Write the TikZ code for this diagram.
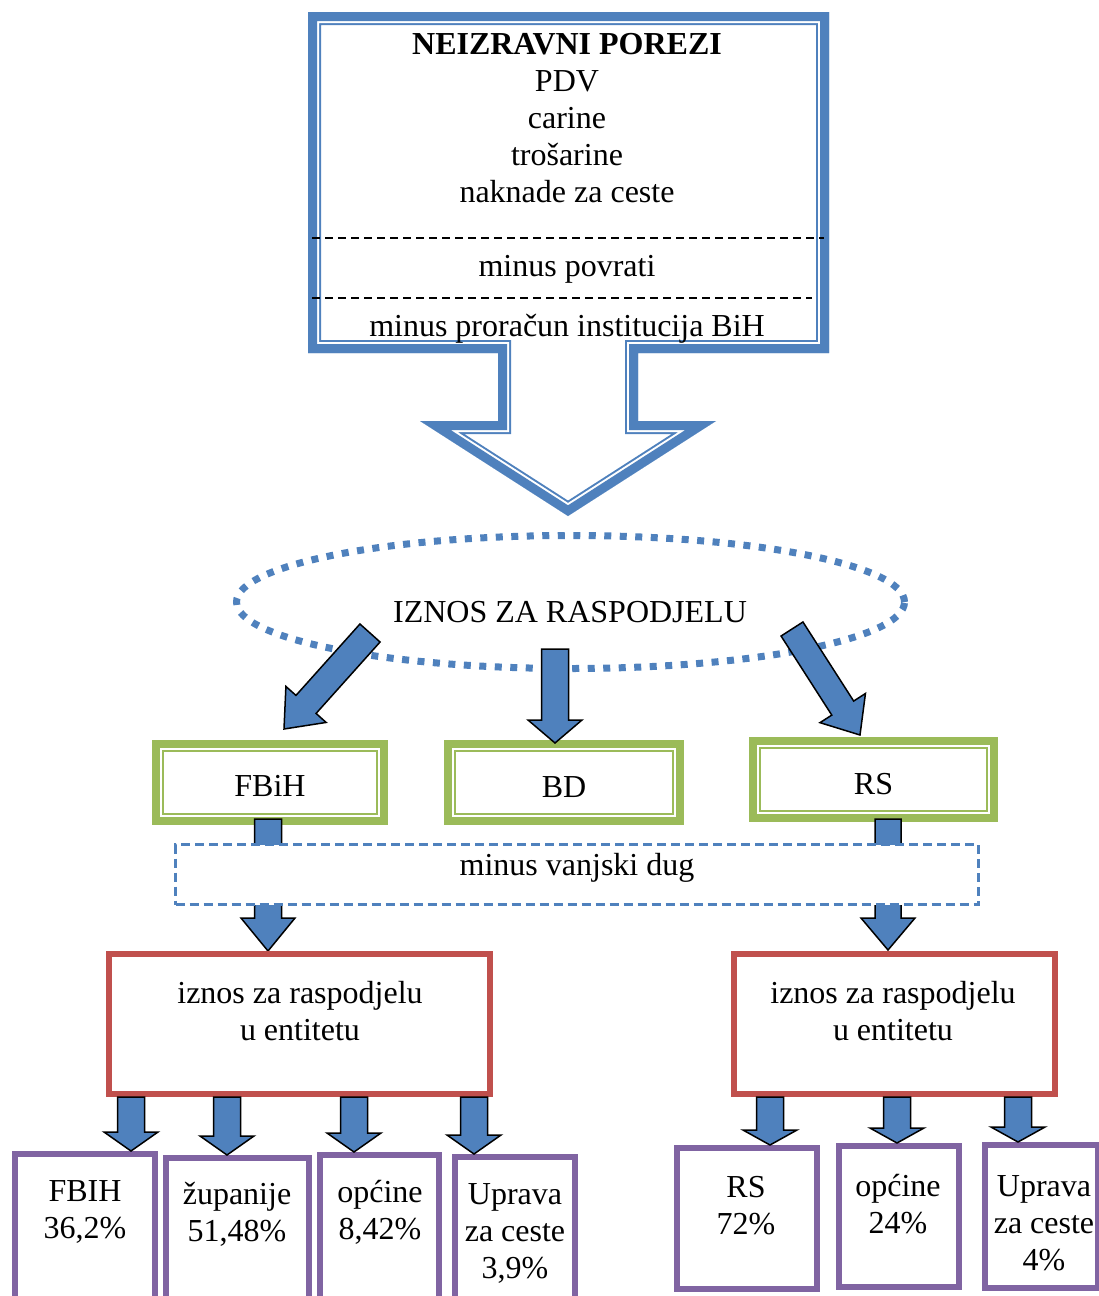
\documentclass[tikz,border=0pt]{standalone}
\usepackage{fontspec}
\setmainfont{Liberation Serif}
\usetikzlibrary{calc,shapes.geometric}

\definecolor{taxblue}{HTML}{4F81BD}
\definecolor{entgreen}{HTML}{9BBB59}
\definecolor{sumred}{HTML}{C0504D}
\definecolor{sharepurple}{HTML}{8064A2}

% block arrow: from, to, half shaft, half head, head length
\newcommand{\blockarrow}[5]{%
  \coordinate (hb) at ($(#2)!#5!(#1)$);
  \draw[blockarr] ($(#1)!#3!90:(#2)$) -- ($(hb)!#3!90:(#2)$) -- ($(hb)!#4!90:(#2)$) -- (#2)
    -- ($(hb)!#4!-90:(#2)$) -- ($(hb)!#3!-90:(#2)$) -- ($(#1)!#3!-90:(#2)$) -- cycle;
}
% thin second line inside a green box
\newcommand{\innerframe}[2]{%
  \draw[entgreen, line width=2pt] ([xshift=#2, yshift=-#2]#1.north west)
    rectangle ([xshift=-#2, yshift=#2]#1.south east);
}

\begin{document}
\begin{tikzpicture}[x=1pt, y=-1pt,
    txt/.style={font=\fontsize{32}{37}\selectfont, align=center, inner sep=0},
    blockarr/.style={fill=taxblue, draw=black, line width=1.5pt, line join=miter},
    greenbox/.style={draw=entgreen, line width=8pt, minimum width=#1, minimum height=77pt,
      inner sep=0, text height=29pt, text depth=0pt, font=\fontsize{32}{37}\selectfont},
    redbox/.style={draw=sumred, line width=6pt, minimum width=#1, minimum height=140pt},
    sharebox/.style={draw=sharepurple, line width=6pt, fill=white},
    dashline/.style={black, line width=1.5pt, dash pattern=on 8pt off 5pt}]

    \useasboundingbox (0,0) rectangle (1098,1296);

    % Big hollow arrow with the indirect taxes
    \def\bigarrow{(308,12) -- (829,12) -- (829,353) -- (638,353) -- (638,421) -- (716,421)
      -- (568,516) -- (420,421) -- (498,421) -- (498,353) -- (308,353) -- cycle}
    \begin{scope}
        \clip \bigarrow;
        \draw[taxblue, line width=26pt, line join=miter] \bigarrow;
        \draw[white, line width=22pt, line join=miter] \bigarrow;
        \draw[taxblue, line width=18pt, line join=miter] \bigarrow;
    \end{scope}
    \draw[dashline] (312,238) -- (824,238);
    \draw[dashline] (312,298) -- (812,298);

    \node[txt] (taxes) at (567,118)
        {\textbf{NEIZRAVNI POREZI}\\PDV\\carine\\trošarine\\naknade za ceste};
    \node[txt] (refunds) at (567,269) {minus povrati};
    \node[txt] (budget) at (567,329) {minus proračun institucija BiH};

    % Amount to distribute
    \node[draw=taxblue, ellipse, line width=7pt, dash pattern=on 7pt off 8.5pt,
        minimum width=668pt, minimum height=133pt, inner sep=0] (pool) at (570.5,602) {};
    \node[txt] (poolt) at (570,612) {IZNOS ZA RASPODJELU};

    % Entities
    \node[greenbox=228pt] (fbih) at (270,782) {FBiH};
    \node[greenbox=232pt] (bd) at (564,782.5) {BD};
    \node[greenbox=241pt] (rs) at (873.5,779.5) {RS};
    \innerframe{fbih}{11pt}
    \innerframe{bd}{11pt}
    \innerframe{rs}{11pt}

    \coordinate (pl) at (370,633);
    \coordinate (pm) at (555,649);
    \coordinate (pr) at (792,629);
    \coordinate (ql) at (284,729);
    \coordinate (qm) at (555,743);
    \coordinate (qr) at (860,735);
    \blockarrow{pl}{ql}{13.5pt}{27pt}{33pt}
    \blockarrow{pm}{qm}{13.5pt}{27pt}{23pt}
    \blockarrow{pr}{qr}{13pt}{27pt}{32pt}

    % External debt
    \coordinate (fl) at (268,819);
    \coordinate (fr) at (888,819);
    \coordinate (gl) at (268,951);
    \coordinate (gr) at (888,950);
    \blockarrow{fl}{gl}{13.5pt}{27pt}{33pt}
    \blockarrow{fr}{gr}{13pt}{27pt}{32pt}
    \node[draw=taxblue, fill=white, line width=2.2pt, dash pattern=on 9pt off 5pt,
        minimum width=803pt, minimum height=60pt] (debt) at (577,874.5) {};
    \node[txt] (debtt) at (577,868) {minus vanjski dug};

    % Amount within each entity
    \node[redbox=381pt] (fbsum) at (299.5,1024) {};
    \node[redbox=321pt] (rssum) at (894.5,1024) {};
    \node[txt] (fbsumt) at (300,1011) {iznos za raspodjelu\\u entitetu};
    \node[txt] (rssumt) at (893,1011) {iznos za raspodjelu\\u entitetu};

    % Shares
    \node[sharebox, minimum width=140pt, minimum height=145pt] (fbihb) at (85,1226.5) {};
    \node[sharebox, minimum width=143pt, minimum height=141pt] (zupb) at (237.5,1228.5) {};
    \node[sharebox, minimum width=119pt, minimum height=144pt] (opcb) at (379.5,1227) {};
    \node[sharebox, minimum width=120pt, minimum height=142pt] (uprb) at (515,1228) {};
    \node[sharebox, minimum width=140pt, minimum height=141pt] (rsb) at (747,1218.5) {};
    \node[sharebox, minimum width=120pt, minimum height=141pt] (opcrb) at (899,1216.5) {};
    \node[sharebox, minimum width=113pt, minimum height=143pt] (uprrb) at (1041.5,1216.5) {};

    \node[txt] (fbiht) at (85,1211.5) {FBIH\\36,2\%};
    \node[txt] (zupt) at (237,1214) {županije\\51,48\%};
    \node[txt] (opct) at (380,1212.5) {općine\\8,42\%};
    \node[txt] (uprt) at (515,1233) {Uprava\\za ceste\\3,9\%};
    \node[txt] (rst) at (746,1206) {RS\\72\%};
    \node[txt] (opcrt) at (898,1204.5) {općine\\24\%};
    \node[txt] (uprrt) at (1044,1223) {Uprava\\za ceste\\4\%};

    \foreach \x/\b in {131/fbihb, 227/zupb, 354/opcb, 474/uprb} {
        \coordinate (s) at (\x,0 |- fbsum.south);
        \coordinate (e) at (\x,0 |- \b.north);
        \blockarrow{s}{e}{13.5pt}{27pt}{19pt}
    }
    \foreach \x/\b in {770/rsb, 897/opcrb, 1018/uprrb} {
        \coordinate (s) at (\x,0 |- rssum.south);
        \coordinate (e) at (\x,0 |- \b.north);
        \blockarrow{s}{e}{13.5pt}{27pt}{15pt}
    }

\end{tikzpicture}
\end{document}
